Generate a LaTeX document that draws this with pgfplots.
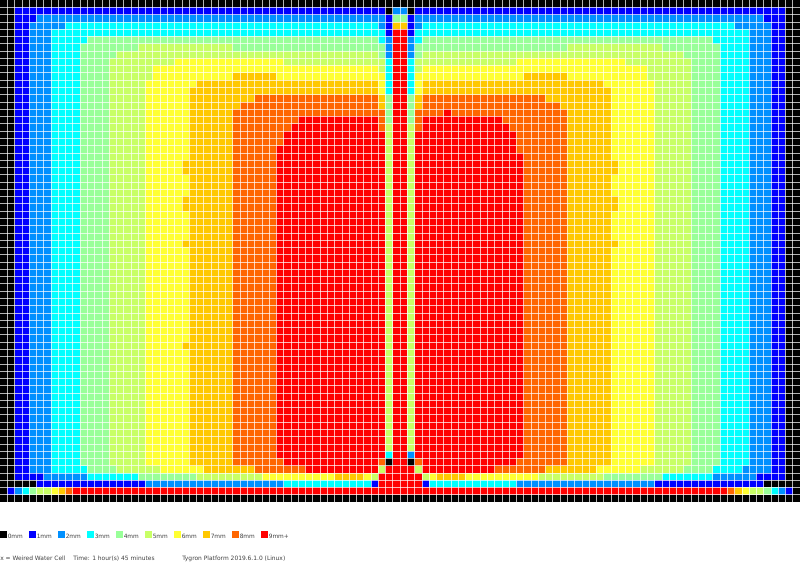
\documentclass[border=0pt]{standalone}
\usepackage{fontspec}
\setmainfont{DejaVu Sans}
\usepackage{pgfplots}
\pgfplotsset{compat=1.18}
% depth colours, 0mm to 9mm+
\definecolor{d0}{RGB}{0,0,0}
\definecolor{d1}{RGB}{0,0,255}
\definecolor{d2}{RGB}{0,144,255}
\definecolor{d3}{RGB}{0,255,255}
\definecolor{d4}{RGB}{153,255,153}
\definecolor{d5}{RGB}{200,255,102}
\definecolor{d6}{RGB}{255,255,51}
\definecolor{d7}{RGB}{255,200,0}
\definecolor{d8}{RGB}{255,102,0}
\definecolor{d9}{RGB}{255,0,0}
% block of cells: depth, x0, x1, y0, y1
\newcommand{\R}[5]{\addplot[fill=d#1,draw=none] coordinates {(#2,#4)(#3,#4)(#3,#5)(#2,#5)} -- cycle;}
\begin{document}
\begin{tikzpicture}[x=1pt,y=1pt]
\path[use as bounding box] (0,-431.25) rectangle (600,0);
\begin{axis}[
    at={(0pt,-376.5pt)}, anchor=south west,
    scale only axis,
    width=600pt, height=376.5pt,
    xmin=0, xmax=110, ymin=0, ymax=69,
    y dir=reverse,
    xtick={1,...,109}, ytick={1,...,68},
    xticklabels={}, yticklabels={},
    major tick length=0pt,
    axis line style={draw=none},
    grid=major,
    grid style={white, line width=0.42pt, opacity=0.7},
    axis on top,
]
\R{0}{0}{110}{0}{69}
% outer rings, row 1 to row 63
\R{1}{2}{108}{1}{64}
\R{2}{5}{105}{2}{3}
\R{2}{4}{106}{3}{64}
\R{3}{9}{101}{3}{4}
\R{3}{7}{103}{4}{64}
\R{4}{12}{98}{5}{6}
\R{4}{11}{99}{6}{64}
\R{5}{19}{32}{6}{7}
\R{5}{78}{91}{6}{7}
\R{5}{16}{94}{7}{8}
\R{5}{15}{95}{8}{64}
\R{6}{24}{39}{8}{9}
\R{6}{71}{86}{8}{9}
\R{6}{21}{89}{9}{11}
\R{6}{20}{90}{11}{64}
\R{7}{32}{38}{10}{11}
\R{7}{72}{78}{10}{11}
\R{7}{27}{83}{11}{12}
\R{7}{26}{84}{12}{64}
\R{7}{25}{26}{22}{24}
\R{7}{84}{85}{22}{24}
\R{7}{25}{26}{27}{29}
\R{7}{84}{85}{27}{29}
\R{7}{25}{26}{33}{34}
\R{7}{84}{85}{33}{34}
\R{7}{25}{26}{47}{48}
\R{8}{35}{75}{13}{14}
\R{8}{33}{77}{14}{15}
\R{8}{32}{78}{15}{64}
% red core
\R{9}{61}{62}{15}{16}
\R{9}{41}{69}{16}{17}
\R{9}{40}{70}{17}{18}
\R{9}{39}{71}{18}{20}
\R{9}{38}{71}{20}{21}
\R{9}{38}{72}{21}{63}
\R{9}{39}{71}{63}{64}
% centre columns
\R{2}{52}{53}{3}{4}  \R{2}{57}{58}{3}{4}
\R{3}{52}{53}{4}{6}  \R{3}{57}{58}{4}{6}
\R{4}{52}{53}{6}{8}  \R{4}{57}{58}{6}{8}
\R{5}{52}{53}{8}{10} \R{5}{57}{58}{8}{10}
\R{6}{52}{53}{10}{13} \R{6}{57}{58}{10}{13}
\R{7}{52}{53}{13}{15} \R{7}{57}{58}{13}{15}
\R{8}{52}{53}{15}{18} \R{8}{57}{58}{15}{18}
\R{8}{52}{53}{63}{64} \R{8}{57}{58}{63}{64}
\R{0}{53}{54}{1}{2}  \R{0}{56}{57}{1}{2}
\R{1}{53}{54}{2}{5}  \R{1}{56}{57}{2}{5}
\R{2}{53}{54}{5}{8}  \R{2}{56}{57}{5}{8}
\R{3}{53}{54}{8}{13} \R{3}{56}{57}{8}{13}
\R{4}{53}{54}{13}{17} \R{4}{56}{57}{13}{17}
\R{5}{53}{54}{17}{62} \R{5}{56}{57}{17}{62}
\R{3}{53}{54}{62}{63} \R{2}{56}{57}{62}{63}
\R{0}{53}{54}{63}{64} \R{0}{56}{57}{63}{64}
\R{2}{54}{56}{1}{2}
\R{4}{54}{56}{2}{3}
\R{7}{54}{56}{3}{4}
\R{9}{54}{56}{4}{64}
% row 64
\R{1}{2}{4}{64}{65} \R{2}{4}{7}{64}{65} \R{3}{7}{12}{64}{65} \R{4}{12}{16}{64}{65}
\R{5}{16}{22}{64}{65} \R{6}{22}{28}{64}{65} \R{7}{28}{35}{64}{65} \R{8}{35}{42}{64}{65}
\R{9}{42}{52}{64}{65} \R{5}{52}{53}{64}{65} \R{9}{53}{57}{64}{65} \R{5}{57}{58}{64}{65}
\R{9}{58}{68}{64}{65} \R{8}{68}{75}{64}{65} \R{7}{75}{82}{64}{65} \R{6}{82}{88}{64}{65}
\R{5}{88}{94}{64}{65} \R{4}{94}{98}{64}{65} \R{3}{98}{102}{64}{65} \R{2}{102}{106}{64}{65}
\R{1}{106}{108}{64}{65}
% row 65
\R{1}{2}{6}{65}{66} \R{2}{6}{12}{65}{66} \R{3}{12}{19}{65}{66} \R{4}{19}{27}{65}{66}
\R{5}{27}{36}{65}{66} \R{6}{36}{46}{65}{66} \R{7}{46}{50}{65}{66} \R{6}{50}{51}{65}{66}
\R{5}{51}{52}{65}{66} \R{9}{52}{58}{65}{66} \R{5}{58}{59}{65}{66} \R{6}{59}{60}{65}{66}
\R{7}{60}{64}{65}{66} \R{6}{64}{74}{65}{66} \R{5}{74}{83}{65}{66} \R{4}{83}{91}{65}{66}
\R{3}{91}{98}{65}{66} \R{2}{98}{104}{65}{66} \R{1}{104}{108}{65}{66}
% row 66
\R{1}{5}{20}{66}{67} \R{2}{20}{39}{66}{67} \R{3}{39}{51}{66}{67} \R{1}{51}{52}{66}{67}
\R{9}{52}{58}{66}{67} \R{1}{58}{59}{66}{67} \R{3}{59}{71}{66}{67} \R{2}{71}{90}{66}{67}
\R{1}{90}{105}{66}{67}
% row 67
\R{1}{1}{2}{67}{68} \R{2}{2}{3}{67}{68} \R{3}{3}{4}{67}{68} \R{4}{4}{5}{67}{68}
\R{5}{5}{7}{67}{68} \R{6}{7}{8}{67}{68} \R{7}{8}{9}{67}{68} \R{8}{9}{10}{67}{68}
\R{9}{10}{100}{67}{68} \R{8}{100}{101}{67}{68} \R{7}{101}{102}{67}{68} \R{6}{102}{103}{67}{68}
\R{5}{103}{105}{67}{68} \R{4}{105}{106}{67}{68} \R{3}{106}{107}{67}{68} \R{2}{107}{108}{67}{68}
\R{1}{108}{109}{67}{68}
\end{axis}
% legend strip, in pixels of the reference
\begin{axis}[
    at={(0pt,-431.25pt)}, anchor=south west,
    scale only axis,
    width=600pt, height=54.75pt,
    xmin=0, xmax=800, ymin=502, ymax=575,
    y dir=reverse,
    hide axis,
    clip=false,
]
\R{0}{0}{7}{531}{538}
\R{1}{29}{36}{531}{538}
\R{2}{58}{65}{531}{538}
\R{3}{87}{94}{531}{538}
\R{4}{116}{123}{531}{538}
\R{5}{145}{152}{531}{538}
\R{6}{174}{181}{531}{538}
\R{7}{203}{210}{531}{538}
\R{8}{232}{239}{531}{538}
\R{9}{261}{268}{531}{538}
\pgfplotsinvokeforeach{0,1,...,8}{
  \node[anchor=west, inner sep=0pt, font=\fontsize{4.4pt}{5pt}\selectfont, text=black!75] at (axis cs:{7.5+29*#1},536.5) {#1mm};
}
\node[anchor=west, inner sep=0pt, font=\fontsize{4.4pt}{5pt}\selectfont, text=black!75] at (axis cs:268.5,536.5) {9mm+};
\node[anchor=west, inner sep=0pt, font=\fontsize{4.45pt}{5pt}\selectfont, text=black!75] at (axis cs:0,558.5) {x = Weired Water Cell};
\node[anchor=west, inner sep=0pt, font=\fontsize{4.45pt}{5pt}\selectfont, text=black!75] at (axis cs:73,558.5) {Time: 1 hour(s) 45 minutes};
\node[anchor=west, inner sep=0pt, font=\fontsize{4.45pt}{5pt}\selectfont, text=black!75] at (axis cs:182,558.5) {Tygron Platform 2019.6.1.0 (Linux)};
\end{axis}
\end{tikzpicture}
\end{document}
